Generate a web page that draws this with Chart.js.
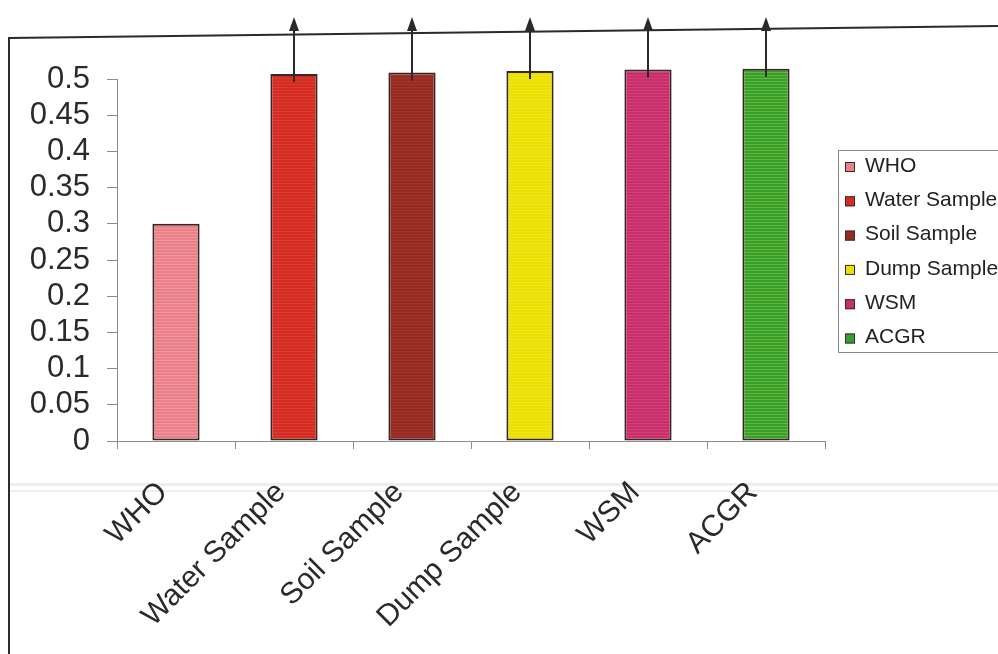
<!DOCTYPE html>
<html>
<head>
<meta charset="utf-8">
<title>Sample comparison</title>
<script src="https://cdn.jsdelivr.net/npm/chart.js@4/dist/chart.umd.min.js"></script>
<style>
  html, body { margin: 0; padding: 0; background: #fff; overflow: hidden; }
  #wrap { width: 998px; height: 654px; position: relative; }
</style>
</head>
<body>
<div id="wrap"><canvas id="sampleChart" width="998" height="654"></canvas></div>
<script>
const categories = ['WHO', 'Water Sample', 'Soil Sample', 'Dump Sample', 'WSM', 'ACGR'];
const values = [0.3, 0.507, 0.509, 0.511, 0.513, 0.514];
const yTickLabels = ['0', '0.05', '0.1', '0.15', '0.2', '0.25', '0.3', '0.35', '0.4', '0.45', '0.5'];
const barColors = ['#e9808a', '#d42b22', '#982a24', '#ebe100', '#c92f6b', '#35a02f'];
const stripeColors = ['#f4a5a8', '#e04a3c', '#a83a32', '#f2ea40', '#d64c80', '#8cc83a'];

const FONT = '"Liberation Sans", Arial, sans-serif';
const Y_MAX = 0.5;

// horizontal line texture like a printed fill
function stripes(base, line) {
  const c = document.createElement('canvas');
  c.width = 4; c.height = 3;
  const g = c.getContext('2d');
  g.fillStyle = base;
  g.fillRect(0, 0, 4, 3);
  g.fillStyle = line;
  g.globalAlpha = 0.55;
  g.fillRect(0, 0, 4, 1);
  return g.createPattern(c, 'repeat');
}

// outer frame of the figure
const framePlugin = {
  id: 'frame',
  beforeDraw(chart) {
    const ctx = chart.ctx;
    ctx.save();
    ctx.strokeStyle = '#2b2b2b';
    ctx.lineWidth = 2;
    ctx.beginPath();
    ctx.moveTo(9, 660);
    ctx.lineTo(9, 38);
    ctx.lineTo(998, 26);
    ctx.stroke();
    // faint scan bands
    ctx.fillStyle = 'rgba(200,205,210,0.35)';
    ctx.fillRect(10, 483, 988, 3);
    ctx.fillRect(10, 490, 988, 2);
    ctx.restore();
  }
};

// upward arrows for values running past the axis maximum
const arrowPlugin = {
  id: 'overflowArrows',
  afterDatasetsDraw(chart) {
    const ctx = chart.ctx;
    const meta = chart.getDatasetMeta(0);
    ctx.save();
    ctx.strokeStyle = '#2a2a2a';
    ctx.fillStyle = '#2a2a2a';
    ctx.lineWidth = 2;
    values.forEach((v, i) => {
      if (v <= Y_MAX) return;
      const bar = meta.data[i];
      const x = bar.x;
      const yStart = bar.y + 8;
      const yTip = 17;
      ctx.beginPath();
      ctx.moveTo(x, yStart);
      ctx.lineTo(x, yTip + 10);
      ctx.stroke();
      ctx.beginPath();
      ctx.moveTo(x, yTip);
      ctx.lineTo(x - 5, yTip + 14);
      ctx.lineTo(x + 5, yTip + 14);
      ctx.closePath();
      ctx.fill();
    });
    ctx.restore();
  }
};

// boxed legend at the right
const legendPlugin = {
  id: 'boxLegend',
  afterDraw(chart) {
    const ctx = chart.ctx;
    const left = 838, top = 150, rowGap = 34.3, firstRow = 166;
    ctx.save();
    ctx.strokeStyle = '#8a8a8a';
    ctx.lineWidth = 1;
    ctx.strokeRect(left + 0.5, top + 0.5, 200, 202);
    ctx.font = '21px ' + FONT;
    ctx.textBaseline = 'middle';
    categories.forEach((name, i) => {
      const cy = firstRow + i * rowGap;
      ctx.fillStyle = barColors[i];
      ctx.fillRect(845, cy - 4, 10, 10);
      ctx.strokeStyle = '#3a2a2a';
      ctx.strokeRect(845.5, cy - 3.5, 9, 9);
      ctx.fillStyle = '#222';
      ctx.fillText(name, 865, cy);
    });
    ctx.restore();
  }
};

const ctx = document.getElementById('sampleChart').getContext('2d');
new Chart(ctx, {
  type: 'bar',
  data: {
    labels: categories,
    datasets: [{
      data: values,
      backgroundColor: barColors.map((c, i) => stripes(c, stripeColors[i])),
      borderColor: '#3b2626',
      borderWidth: 2,
      borderSkipped: false,
      categoryPercentage: 1,
      barPercentage: 0.4,
      clip: false
    }]
  },
  options: {
    responsive: false,
    animation: false,
    layout: { padding: { left: 10, right: 173, top: 79, bottom: 0 } },
    plugins: {
      legend: { display: false },
      tooltip: { enabled: false }
    },
    scales: {
      x: {
        offset: true,
        grid: { offset: true, drawOnChartArea: false, tickLength: 8, color: '#8c8c8c' },
        border: { color: '#8c8c8c', width: 1 },
        ticks: {
          autoSkip: false,
          minRotation: 45,
          maxRotation: 45,
          padding: 26,
          labelOffset: -13,
          color: '#2a2a2a',
          font: { family: FONT, size: 30 }
        },
        afterFit(scale) { scale.height = 213; }
      },
      y: {
        min: 0,
        max: Y_MAX,
        grid: { drawOnChartArea: false, tickLength: 10, color: '#8c8c8c' },
        border: { color: '#8c8c8c', width: 1 },
        ticks: {
          stepSize: 0.05,
          autoSkip: false,
          maxTicksLimit: 20,
          padding: 17,
          color: '#2a2a2a',
          font: { family: FONT, size: 31, lineHeight: 1 },
          callback: (v, i) => yTickLabels[i]
        },
        afterFit(scale) { scale.width = 107; }
      }
    }
  },
  plugins: [framePlugin, arrowPlugin, legendPlugin]
});
</script>
</body>
</html>
